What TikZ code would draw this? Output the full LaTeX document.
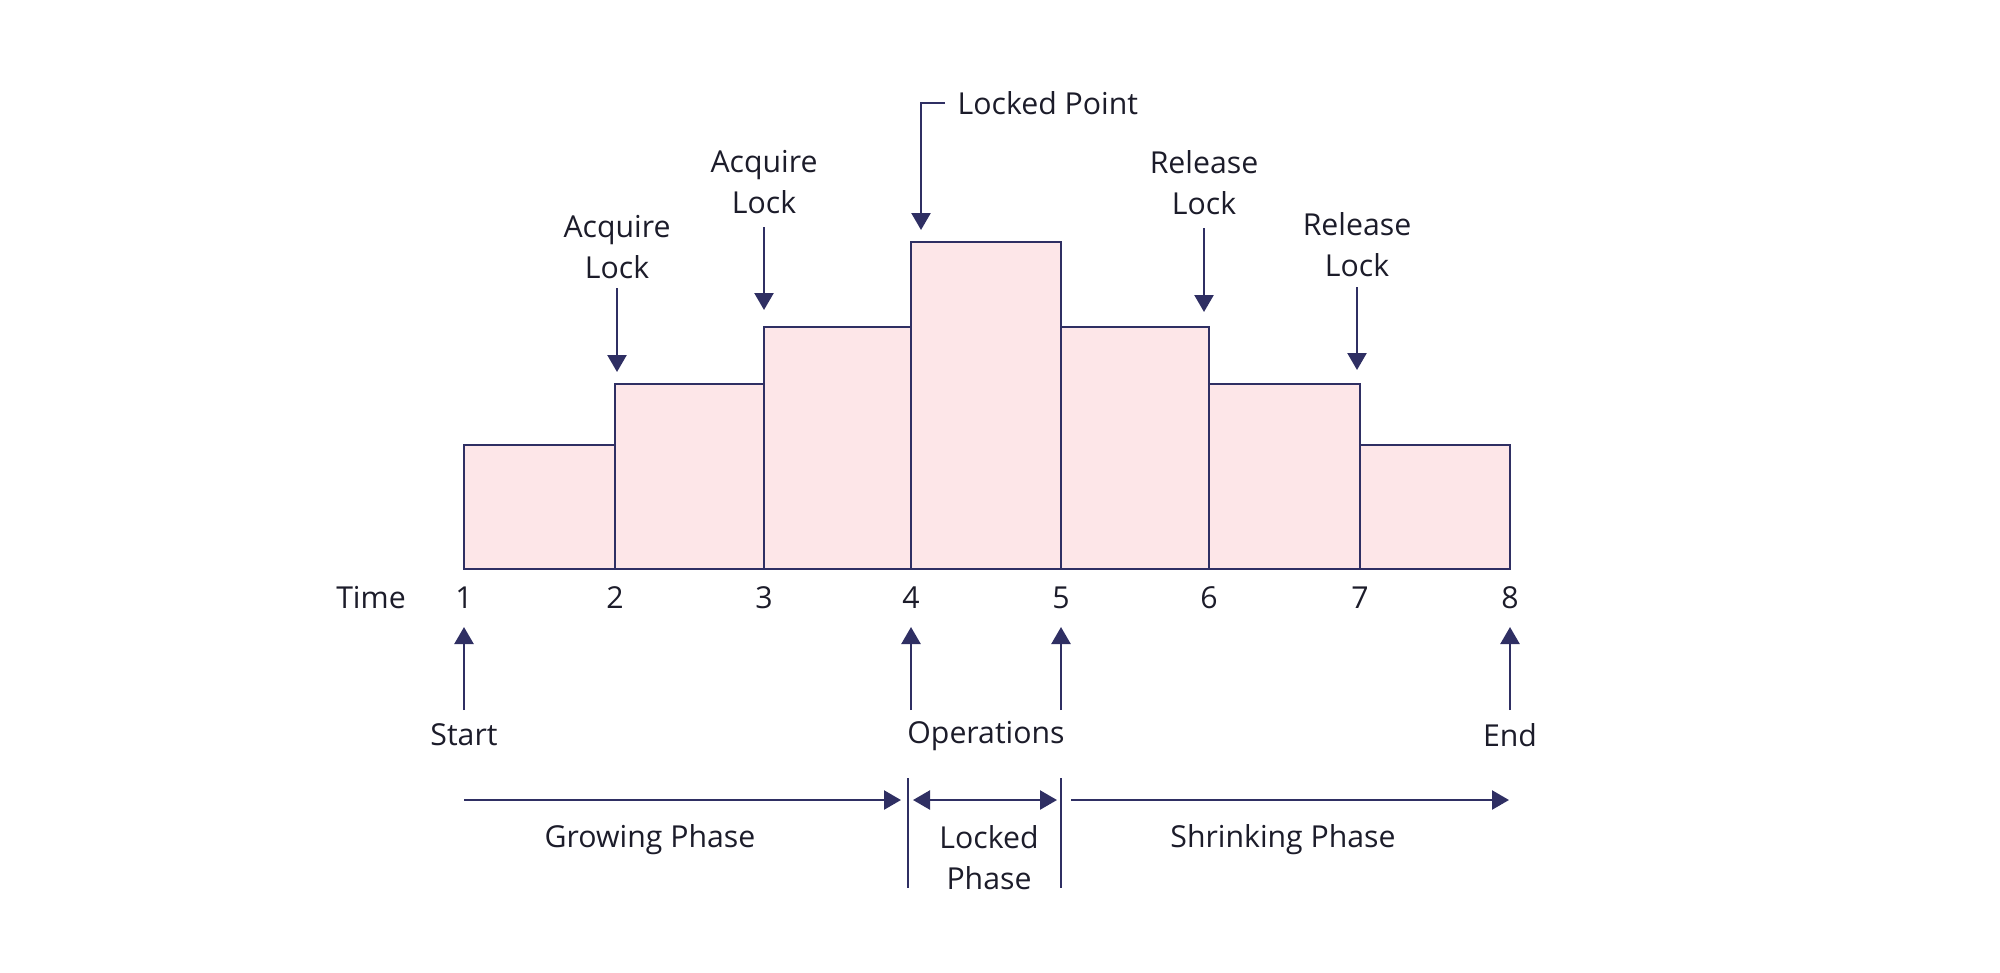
\documentclass[tikz,border=0pt]{standalone}
\usepackage{fontspec}
\setmainfont{Open Sans}
\usetikzlibrary{arrows.meta}
\definecolor{navy}{HTML}{2F2F63}
\definecolor{barfill}{HTML}{FDE6E8}
\definecolor{ink}{HTML}{1C1C2A}
\begin{document}
\begin{tikzpicture}[x=0.01cm,y=-0.01cm,
  bar/.style={draw=navy,fill=barfill,line width=0.75pt},
  arr/.style={draw=navy,line width=0.7pt,-{Triangle[length=0.17cm,width=0.19cm]}},
  darr/.style={draw=navy,line width=0.7pt,{Triangle[length=0.17cm,width=0.19cm]}-{Triangle[length=0.17cm,width=0.19cm]}},
  sep/.style={draw=navy,line width=0.7pt},
  lbl/.style={text=ink,font=\fontsize{8.6}{11.6}\selectfont,align=center,inner sep=0pt}]
\useasboundingbox (0,0) rectangle (2000,972);
% bars
\draw[bar] (464,569) rectangle (615,445);
\draw[bar] (615,569) rectangle (764,384);
\draw[bar] (764,569) rectangle (911,327);
\draw[bar] (911,569) rectangle (1061,242);
\draw[bar] (1061,569) rectangle (1209,327);
\draw[bar] (1209,569) rectangle (1360,384);
\draw[bar] (1360,569) rectangle (1510,445);
% time axis labels
\node[lbl] (time) at (371,598) {Time};
\node[lbl] (t1) at (464,598) {1};
\node[lbl] (t2) at (615,598) {2};
\node[lbl] (t3) at (764,598) {3};
\node[lbl] (t4) at (911,598) {4};
\node[lbl] (t5) at (1061,598) {5};
\node[lbl] (t6) at (1209,598) {6};
\node[lbl] (t7) at (1360,598) {7};
\node[lbl] (t8) at (1510,598) {8};
% bottom pointers
\node[lbl] (start) at (464,735) {Start};
\node[lbl] (ops) at (986,736) {Operations};
\node[lbl] (end) at (1510,735) {End};
\coordinate (s0) at (464,710); \coordinate (s1) at (464,627);
\coordinate (o0) at (911,710); \coordinate (o1) at (911,627);
\coordinate (p0) at (1061,710); \coordinate (p1) at (1061,627);
\coordinate (e0) at (1510,710); \coordinate (e1) at (1510,627);
\draw[arr] (s0) -- (s1);
\draw[arr] (o0) -- (o1);
\draw[arr] (p0) -- (p1);
\draw[arr] (e0) -- (e1);
% phases
\coordinate (g0) at (464,800); \coordinate (g1) at (901,800);
\coordinate (l0) at (913,800); \coordinate (l1) at (1057,800);
\coordinate (k0) at (1071,800); \coordinate (k1) at (1509,800);
\coordinate (v1a) at (908,778); \coordinate (v1b) at (908,888);
\coordinate (v2a) at (1061,778); \coordinate (v2b) at (1061,888);
\draw[arr] (g0) -- (g1);
\draw[darr] (l0) -- (l1);
\draw[arr] (k0) -- (k1);
\draw[sep] (v1a) -- (v1b);
\draw[sep] (v2a) -- (v2b);
\node[lbl] (grow) at (650,840) {Growing Phase};
\node[lbl] (lockph) at (989,858) {Locked\\Phase};
\node[lbl] (shrink) at (1283,840) {Shrinking Phase};
% top pointers
\node[lbl] (acq1) at (617,247) {Acquire\\Lock};
\node[lbl] (acq2) at (764,182) {Acquire\\Lock};
\node[lbl,anchor=west] (lpt) at (957,103) {Locked Point};
\node[lbl] (rel1) at (1204,183) {Release\\Lock};
\node[lbl] (rel2) at (1357,245) {Release\\Lock};
\coordinate (a1a) at (617,288); \coordinate (a1b) at (617,372);
\coordinate (a2a) at (764,227); \coordinate (a2b) at (764,310);
\coordinate (lpa) at (945,103); \coordinate (lpc) at (921,103); \coordinate (lpb) at (921,230);
\coordinate (r1a) at (1204,228); \coordinate (r1b) at (1204,312);
\coordinate (r2a) at (1357,287); \coordinate (r2b) at (1357,370);
\draw[arr] (a1a) -- (a1b);
\draw[arr] (a2a) -- (a2b);
\draw[arr] (lpa) -- (lpc) -- (lpb);
\draw[arr] (r1a) -- (r1b);
\draw[arr] (r2a) -- (r2b);
\end{tikzpicture}
\end{document}
